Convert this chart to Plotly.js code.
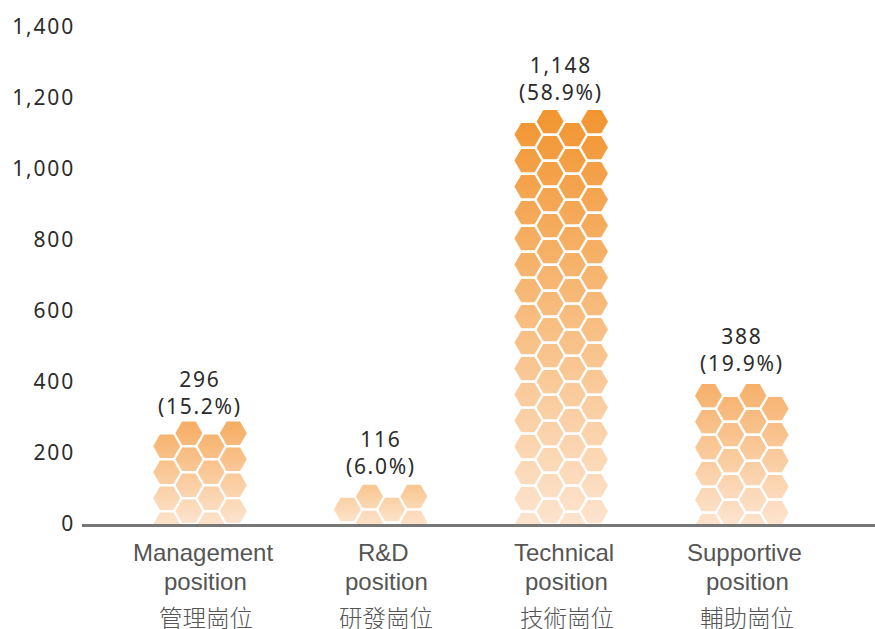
<!DOCTYPE html>
<html><head><meta charset="utf-8">
<script src="https://cdn.plot.ly/plotly-3.0.1.min.js"></script>
<style>
html,body{margin:0;padding:0;background:#fff}
.ytick text{letter-spacing:1.8px}
.annotation[data-index="0"] text,.annotation[data-index="1"] text,.annotation[data-index="2"] text,.annotation[data-index="3"] text{letter-spacing:1.7px}
</style></head><body>
<div id="chart" style="width:875px;height:629px"></div>
<script>
// Data
const categoriesEn = ['Management','R&D','Technical','Supportive'];
const categoryNoun = 'position';
const categoriesZh = ['管理崗位','研發崗位','技術崗位','輔助崗位'];
const values = [296, 116, 1148, 388];
const shares = ['15.2%','6.0%','58.9%','19.9%'];
const yTicks = [0,200,400,600,800,1000,1200,1400];
// Height of each honeycomb stack on the value axis, as drawn
const stackTops = [288, 110, 1166, 394];
// Which columns of a stack reach the top row (0: 1st & 3rd, 1: 2nd & 4th)
const highColumn = [1, 1, 1, 0];

// Styles
const topColors = ['#F6AD62','#F9C68E','#F29530','#F6B06A'];
const bottomColor = [253,228,206];
const labelShift = [-0.5,2.5,2,5];
const W=875,H=629,L=82,R=0,T=27,B=105;
const unitPx=(H-T-B)/1400;
const xPitch=180.6;
const xRange=[(L-200)/xPitch,(W-R-200)/xPitch];
const colPitch=22.2/xPitch, rowPitch=26/unitPx, hexH=23/unitPx, catOffset=5.5/xPitch;
function rgb(h){return [1,3,5].map(i=>parseInt(h.substr(i,2),16));}
function mix(a,b,t){return 'rgb('+a.map((v,i)=>Math.round(v+(b[i]-v)*t)).join(',')+')';}

const traces=[];
values.forEach((v,b)=>{
  const xs=[],ys=[],cols=[],grads=[];
  const top=stackTops[b], tc=rgb(topColors[b]);
  for(let c=0;c<4;c++){
    const high=(c%2)===highColumn[b];
    let y=top-hexH/2-(high?0:rowPitch/2);
    for(;y>-hexH;y-=rowPitch){
      xs.push(b+(c-1.5)*colPitch); ys.push(y);
      const t1=1-(y+hexH/2)/top, t2=1-(y-hexH/2)/top;
      cols.push(mix(tc,bottomColor,Math.min(1,Math.max(0,t1))));
      grads.push(mix(tc,bottomColor,Math.min(1,Math.max(0,t2))));
    }
  }
  traces.push({type:'scatter',mode:'markers',x:xs,y:ys,cliponaxis:true,hoverinfo:'skip',showlegend:false,
    marker:{symbol:'hexagon2',size:27,color:cols,line:{width:0},gradient:{type:'vertical',color:grads}}});
});

const numFont={family:'"Noto Sans",sans-serif',size:21,color:'#2b2b2b'};
const enFont={family:'"Liberation Sans",sans-serif',size:24,color:'#555'};
const annotations=[];
// Value labels come first: the page style spaces their letters by index
values.forEach((v,b)=>{
  annotations.push({xref:'x',yref:'y',x:b,y:stackTops[b],yanchor:'bottom',xanchor:'center',showarrow:false,
    yshift:labelShift[b],align:'center',font:numFont,
    text:v.toLocaleString('en-US')+'<br>('+shares[b]+')'});
});
values.forEach((v,b)=>{
  const cx=b+catOffset;
  annotations.push({xref:'x',yref:'paper',x:cx,y:0,yanchor:'middle',xanchor:'center',showarrow:false,xshift:-2.5,yshift:-28,font:enFont,text:categoriesEn[b]});
  annotations.push({xref:'x',yref:'paper',x:cx,y:0,yanchor:'middle',xanchor:'center',showarrow:false,yshift:-57,font:enFont,text:categoryNoun});
  annotations.push({xref:'x',yref:'paper',x:cx,y:0,yanchor:'middle',xanchor:'center',showarrow:false,yshift:-93,
    font:{family:'"Noto Sans CJK TC",sans-serif',size:23.5,color:'#555',weight:300},text:categoriesZh[b]});
});

Plotly.newPlot('chart',traces,{
  width:W,height:H,margin:{l:L,r:R,t:T,b:B,pad:0},paper_bgcolor:'#fff',plot_bgcolor:'#fff',showlegend:false,
  xaxis:{range:xRange,showticklabels:false,showgrid:false,zeroline:false,
    showline:true,linecolor:'#777',linewidth:2.5,ticks:'',automargin:false,layer:'above traces'},
  yaxis:{range:[0,1400],tickmode:'array',tickvals:yTicks,ticktext:yTicks.map(t=>t.toLocaleString('en-US')),
    showgrid:false,zeroline:false,showline:false,ticks:'',automargin:false,ticklabelstandoff:6,
    tickfont:numFont},
  annotations
},{displayModeBar:false,staticPlot:true});
</script></body></html>
